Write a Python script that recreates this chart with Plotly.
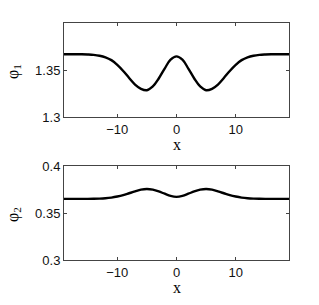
import plotly.graph_objects as go

# Data
x_vals = list(range(-19, 20))
phi1_half = [1.3645, 1.3610, 1.3515, 1.3410, 1.3325, 1.3285, 1.3300, 1.3345, 1.3415,
             1.3490, 1.3555, 1.3605, 1.3635, 1.3652, 1.3661, 1.3665, 1.3667, 1.3667,
             1.3667, 1.3667]
phi2_half = [0.3672, 0.3682, 0.3705, 0.3730, 0.3748, 0.3755, 0.3748, 0.3730, 0.3710,
             0.3690, 0.3675, 0.3664, 0.3657, 0.3653, 0.3651, 0.3650, 0.3650, 0.3650,
             0.3650, 0.3650]
phi1 = phi1_half[:0:-1] + phi1_half
phi2 = phi2_half[:0:-1] + phi2_half

x_ticks = [-10, 0, 10]
x_tick_text = ["\u221210", "0", "10"]
y1_ticks = [1.3, 1.35]
y1_tick_text = ["1.3", "1.35"]
y2_ticks = [0.3, 0.35, 0.4]
y2_tick_text = ["0.3", "0.35", "0.4"]

OFF = 8  # page body margin
W, H = 319 - 2 * OFF, 305 - 2 * OFF


def px(xp):
    return (xp - OFF) / W


def py(yp):
    return 1 - (yp - OFF) / H


xd = [px(64), px(289)]
y1d = [py(117), py(23)]
y2d = [py(260), py(166)]

fig = go.Figure()
fig.add_trace(go.Scatter(x=x_vals, y=phi1, mode="lines", line=dict(color="black", width=2.4, shape="spline"),
                         xaxis="x", yaxis="y", showlegend=False))
fig.add_trace(go.Scatter(x=x_vals, y=phi2, mode="lines", line=dict(color="black", width=2.4, shape="spline"),
                         xaxis="x2", yaxis="y2", showlegend=False))

tickfont = dict(family="Liberation Sans, Arial, sans-serif", size=13, color="#111")
axis_common = dict(showline=True, linecolor="#444", linewidth=1, mirror="ticks", ticks="inside",
                   ticklen=3, tickcolor="#444", showgrid=False, zeroline=False, tickfont=tickfont,
                   automargin=False)

fig.update_layout(
    width=W, height=H, margin=dict(l=0, r=0, t=0, b=0, pad=0, autoexpand=False),
    paper_bgcolor="white", plot_bgcolor="white",
    xaxis=dict(domain=xd, anchor="y", range=[-19, 19], tickvals=x_ticks, ticktext=x_tick_text, **axis_common),
    yaxis=dict(domain=y1d, anchor="x", range=[1.3, 1.4], tickvals=y1_ticks, ticktext=y1_tick_text, **axis_common),
    xaxis2=dict(domain=xd, anchor="y2", range=[-19, 19], tickvals=x_ticks, ticktext=x_tick_text, **axis_common),
    yaxis2=dict(domain=y2d, anchor="x2", range=[0.3, 0.4], tickvals=y2_ticks, ticktext=y2_tick_text, **axis_common),
)

serif = dict(family="Liberation Serif, Times New Roman, serif", size=16, color="black")
ann = [
    dict(text="x", x=px(176.7), y=py(145), xref="paper", yref="paper", showarrow=False, font=serif,
         xanchor="center", yanchor="middle"),
    dict(text="x", x=px(176.7), y=py(287), xref="paper", yref="paper", showarrow=False, font=serif,
         xanchor="center", yanchor="middle"),
    dict(text="\u03c6<sub>1</sub>", x=px(13), y=py(71), xref="paper", yref="paper", showarrow=False,
         font=serif, textangle=-90, xanchor="center", yanchor="middle"),
    dict(text="\u03c6<sub>2</sub>", x=px(13), y=py(214), xref="paper", yref="paper", showarrow=False,
         font=serif, textangle=-90, xanchor="center", yanchor="middle"),
]
fig.update_layout(annotations=ann)
fig.write_html("out.html")
